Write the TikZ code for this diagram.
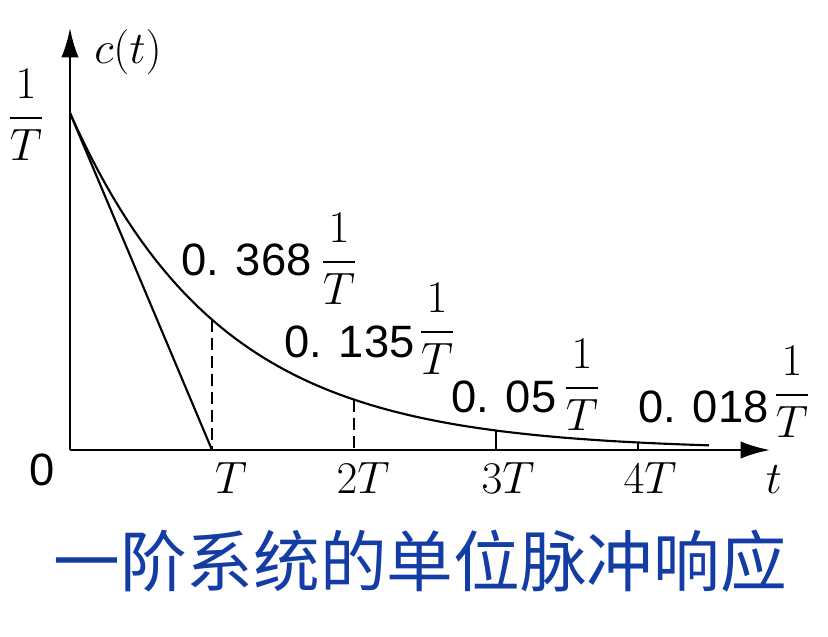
\RequirePackage{fix-cm}
\documentclass[tikz,border=0pt]{standalone}
\usepackage{amsmath}
\usepackage{fontspec}
\newfontfamily\numfont{Liberation Sans}
\newfontfamily\cjk{Noto Sans CJK SC}
\usetikzlibrary{arrows.meta}
\definecolor{capblue}{RGB}{20,60,165}

\begin{document}
\begin{tikzpicture}[x=0.75pt,y=0.75pt,yscale=-1,xscale=1,
        axisline/.style={line width=2pt,-{Latex[length=22pt,width=13pt]}},
        curveline/.style={line width=1.6pt},
        dropline/.style={line width=1.3pt,dash pattern={on 9pt off 4.5pt}},
        lbl/.style={inner sep=0.75pt,font=\fontsize{34}{40}\selectfont}]
        \useasboundingbox (0,0) rectangle (828,636);
        
        %Axes
        \coordinate (O) at (70,450);
        \coordinate (ytip) at (70,28);
        \coordinate (xtip) at (770,450);
        \draw [axisline] (O) -- (ytip);
        \draw [axisline] (O) -- (xtip);
        
        %Tangent at t=0
        \coordinate (P0) at (70,113);
        \coordinate (T1) at (212,450);
        \coordinate (T2) at (354,450);
        \coordinate (T3) at (496,450);
        \coordinate (T4) at (638,450);
        \draw [curveline] (P0) -- (T1);
        
        %Response curve
        \draw [curveline] plot [domain=0:4.5,samples=90] ({70+142*\x},{450-337*exp(-0.95*\x)});
        
        %Values at T, 2T, 3T, 4T
        \coordinate (C1) at (212,319.7);
        \coordinate (C2) at (354,399.6);
        \coordinate (C3) at (496,430.5);
        \coordinate (C4) at (638,442.5);
        \draw [dropline] (C1) -- (T1);
        \draw [dropline] (C2) -- (T2);
        \draw [curveline] (C3) -- (T3);
        \draw [curveline] (C4) -- (T4);
        
        % Text Node
        \node (yname) [lbl] at (128,52) {$c(t)$};
        % Text Node
        \node (ymax) [lbl] at (26,115) {$\dfrac{1}{T}$};
        % Text Node
        \node (zero) [lbl] at (42,470) {\numfont 0};
        % Text Node
        \node (v1) [lbl,anchor=base west] at (180,275) {\numfont 0. 368};
        \node (f1) [lbl] at (339,259) {$\dfrac{1}{T}$};
        % Text Node
        \node (v2) [lbl,anchor=base west] at (283,357) {\numfont 0. 135};
        \node (f2) [lbl] at (437,329) {$\dfrac{1}{T}$};
        % Text Node
        \node (v3) [lbl,anchor=base west] at (450,412) {\numfont 0. 05};
        \node (f3) [lbl] at (582,385) {$\dfrac{1}{T}$};
        % Text Node
        \node (v4) [lbl,anchor=base west] at (637,422) {\numfont 0. 018};
        \node (f4) [lbl] at (792,392) {$\dfrac{1}{T}$};
        % Text Node
        \node (tT1) [lbl] at (231,478) {$T$};
        \node (tT2) [lbl] at (363,478) {$2T$};
        \node (tT3) [lbl] at (508,478) {$3T$};
        \node (tT4) [lbl] at (650,478) {$4T$};
        \node (xname) [lbl] at (774,480) {$t$};
        
        % Caption
        \node (caption) [inner sep=0pt,text=capblue,font=\cjk\fontsize{50}{56}\selectfont] at (420,561) {一阶系统的单位脉冲响应};
        
\end{tikzpicture}
\end{document}
